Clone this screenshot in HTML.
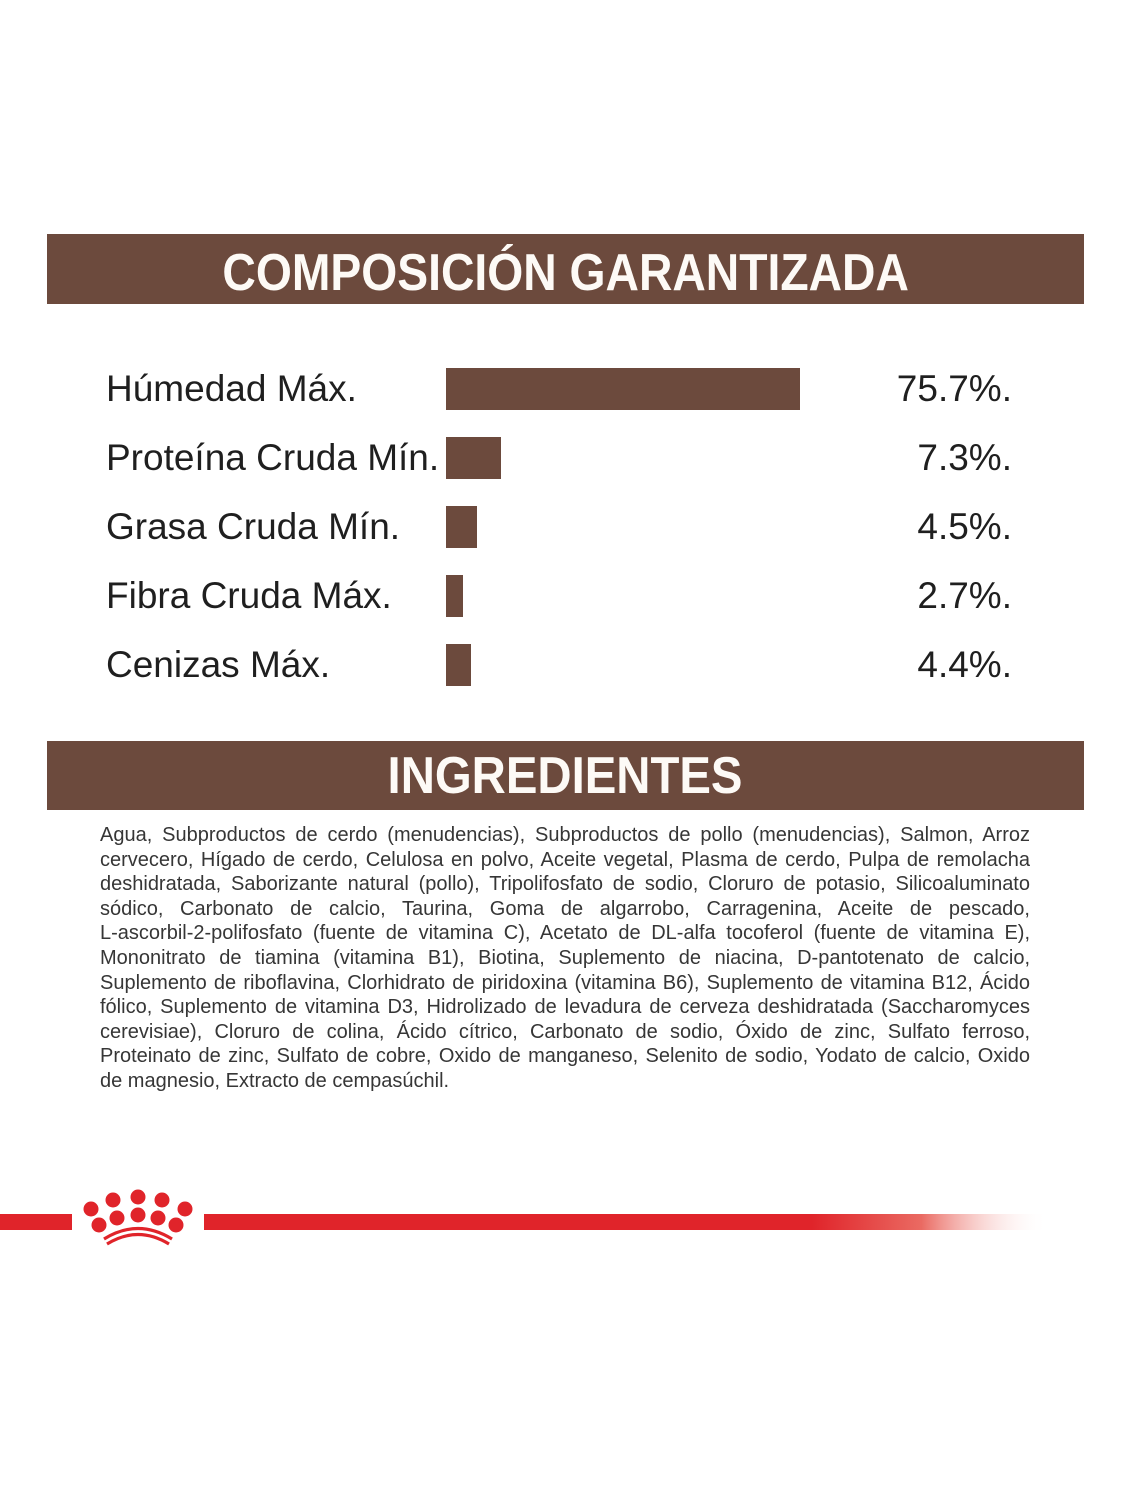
<!DOCTYPE html>
<html>
<head>
<meta charset="utf-8">
<style>
  html, body { margin:0; padding:0; }
  body { width:1125px; height:1500px; background:#ffffff; position:relative; overflow:hidden;
         font-family:"Liberation Sans", Arial, sans-serif; }
  .hdr { position:absolute; left:47px; width:1037px; background:#6c4a3d; }
  .hdr .t { position:absolute; left:0; right:0; text-align:center; color:#fdfaf6;
            font-weight:bold; font-size:52px; line-height:52px; }
  .hdr .t span { display:inline-block; transform:scaleX(0.89); transform-origin:center; }
  .row { position:absolute; left:0; width:1125px; height:42px; }
  .lab { position:absolute; left:106px; top:0; font-size:37px; line-height:42px; color:#1f1f1f; white-space:nowrap; }
  .bar { position:absolute; left:446px; top:0; height:42px; background:#6c4a3d; }
  .val { position:absolute; right:113px; top:0; font-size:37px; line-height:42px; color:#1f1f1f; text-align:right; white-space:nowrap; }
  .ing { position:absolute; left:100px; top:823px; width:930px; font-size:20px; line-height:24.6px; color:#363636; }
  .ing div { text-align:justify; text-align-last:justify; white-space:normal; }
  .ing div.last { text-align-last:left; }
</style>
</head>
<body>

<div class="hdr" style="top:234px;height:70px;">
  <div class="t" style="top:13px;"><span>COMPOSICIÓN GARANTIZADA</span></div>
</div>

<div class="row" style="top:368px;">
  <div class="lab">Húmedad Máx.</div>
  <div class="bar" style="width:354px;"></div>
  <div class="val">75.7%.</div>
</div>
<div class="row" style="top:437px;">
  <div class="lab">Proteína Cruda Mín.</div>
  <div class="bar" style="width:55px;"></div>
  <div class="val">7.3%.</div>
</div>
<div class="row" style="top:506px;">
  <div class="lab">Grasa Cruda Mín.</div>
  <div class="bar" style="width:31px;"></div>
  <div class="val">4.5%.</div>
</div>
<div class="row" style="top:575px;">
  <div class="lab">Fibra Cruda Máx.</div>
  <div class="bar" style="width:17px;"></div>
  <div class="val">2.7%.</div>
</div>
<div class="row" style="top:644px;">
  <div class="lab">Cenizas Máx.</div>
  <div class="bar" style="width:25px;"></div>
  <div class="val">4.4%.</div>
</div>

<div class="hdr" style="top:741px;height:69px;">
  <div class="t" style="top:9px;"><span style="transform:scaleX(0.91);">INGREDIENTES</span></div>
</div>

<div class="ing">
  <div>Agua, Subproductos de cerdo (menudencias), Subproductos de pollo (menudencias), Salmon, Arroz</div>
  <div>cervecero, Hígado de cerdo, Celulosa en polvo, Aceite vegetal, Plasma de cerdo, Pulpa de remolacha</div>
  <div>deshidratada, Saborizante natural (pollo), Tripolifosfato de sodio, Cloruro de potasio, Silicoaluminato</div>
  <div>sódico, Carbonato de calcio, Taurina, Goma de algarrobo, Carragenina, Aceite de pescado,</div>
  <div>L-ascorbil-2-polifosfato (fuente de vitamina C), Acetato de DL-alfa tocoferol (fuente de vitamina E),</div>
  <div>Mononitrato de tiamina (vitamina B1), Biotina, Suplemento de niacina, D-pantotenato de calcio,</div>
  <div>Suplemento de riboflavina, Clorhidrato de piridoxina (vitamina B6), Suplemento de vitamina B12, Ácido</div>
  <div>fólico, Suplemento de vitamina D3, Hidrolizado de levadura de cerveza deshidratada (Saccharomyces</div>
  <div>cerevisiae), Cloruro de colina, Ácido cítrico, Carbonato de sodio, Óxido de zinc, Sulfato ferroso,</div>
  <div>Proteinato de zinc, Sulfato de cobre, Oxido de manganeso, Selenito de sodio, Yodato de calcio, Oxido</div>
  <div class="last">de magnesio, Extracto de cempasúchil.</div>
</div>

<svg style="position:absolute;left:0;top:1180px;" width="1125" height="80" viewBox="0 1180 1125 80">
  <defs>
    <linearGradient id="fade" x1="204" y1="0" x2="1048" y2="0" gradientUnits="userSpaceOnUse">
      <stop offset="0" stop-color="#e0242a"/>
      <stop offset="0.72" stop-color="#e0242a"/>
      <stop offset="0.85" stop-color="#ea6a62"/>
      <stop offset="1" stop-color="#ffffff" stop-opacity="0"/>
    </linearGradient>
  </defs>
  <rect x="0" y="1214" width="72" height="16" fill="#e0242a"/>
  <rect x="204" y="1214" width="844" height="16" fill="url(#fade)"/>
  <g fill="#e0242a">
    <circle cx="138" cy="1197" r="7.5"/>
    <circle cx="113" cy="1200" r="7.5"/>
    <circle cx="162" cy="1200" r="7.5"/>
    <circle cx="91" cy="1209" r="7.5"/>
    <circle cx="185" cy="1209" r="7.5"/>
    <circle cx="117" cy="1218" r="7.5"/>
    <circle cx="138" cy="1215" r="7.5"/>
    <circle cx="158" cy="1218" r="7.5"/>
    <circle cx="99" cy="1225" r="7.5"/>
    <circle cx="176" cy="1225" r="7.5"/>
  </g>
  <path d="M104 1239 Q138 1218 172 1239" fill="none" stroke="#e0242a" stroke-width="3.2"/>
  <path d="M107 1244 Q138 1225 169 1244" fill="none" stroke="#e0242a" stroke-width="3.2"/>
</svg>

</body>
</html>
